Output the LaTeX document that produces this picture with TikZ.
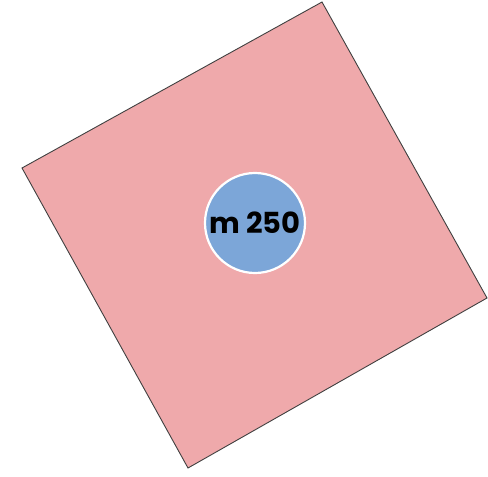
\documentclass[tikz,border=0pt]{standalone}
\usepackage{fontspec}
\newfontfamily\labelfont{Poppins}[FakeBold=0]
\definecolor{squarepink}{RGB}{239,169,171}
\definecolor{circblue}{RGB}{124,166,216}
\begin{document}
\begin{tikzpicture}[x=1pt,y=-1pt,
  sq/.style={draw=black!75!white, line width=0.9pt, fill=squarepink, line join=miter},
  dot/.style={circle, draw=white, line width=2.2pt, fill=circblue, minimum size=100pt, inner sep=0pt,
    font=\labelfont\fontsize{29}{30}\selectfont\bfseries}]
\useasboundingbox (0,0) rectangle (488,477);
\coordinate (c1) at (22,168);
\coordinate (c2) at (322,2);
\coordinate (c3) at (487,298);
\coordinate (c4) at (188,468);
\draw[sq] (c1) -- (c2) -- (c3) -- (c4) -- cycle;
\node[dot] (m) at (255,223) {m 250};
\end{tikzpicture}
\end{document}
